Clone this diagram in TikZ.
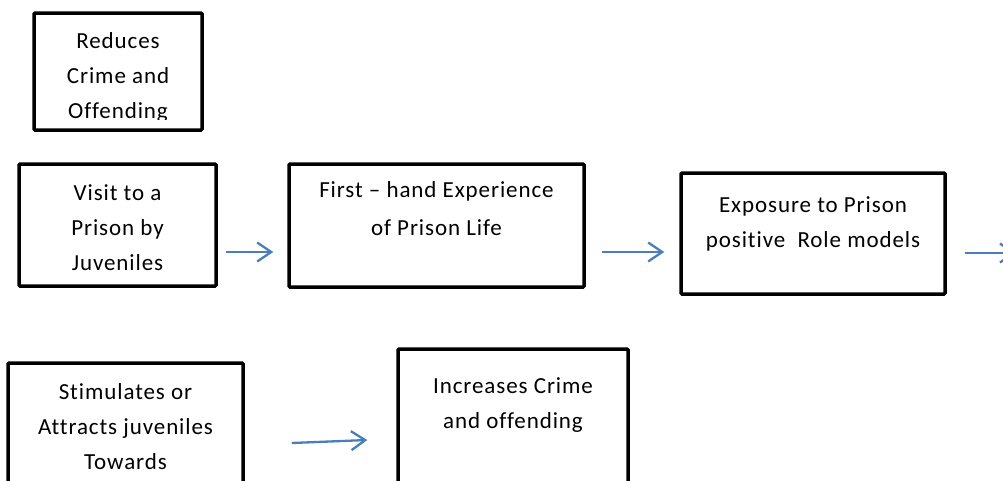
\documentclass[tikz,border=0pt]{standalone}
\usepackage{fontspec}
\setmainfont{Carlito}[LetterSpace=4, Ligatures={NoCommon}]
\usepackage{tikz}
\usetikzlibrary{arrows.meta}
\definecolor{arrowblue}{HTML}{4A7EBB}

\begin{document}
\begin{tikzpicture}[
  x=1pt, y=-1pt,
  every node/.style={font=\fontsize{23}{35}\selectfont, align=center, inner sep=0pt},
  box/.style={draw=black, line width=3.5pt, rounded corners=1pt},
  lbl/.style={anchor=north},
  arr/.style={-{Straight Barb[length=14pt, width=19pt]}, line width=2.3pt, draw=arrowblue}
]
\useasboundingbox (0,0) rectangle (1003,480);
\clip (0,0) rectangle (1003,480);
% box texts
\begin{scope}
  \clip (34,13) rectangle (202,119);
  \node[lbl] (reducetxt) at (118,32) {Reduces\\Crime and\\Offending};
\end{scope}
\node[lbl] (visittxt) at (117.5,184) {Visit to a\\Prison by\\Juveniles};
\node[lbl, font=\fontsize{23}{38}\selectfont] (firsttxt) at (436.5,181) {First – hand Experience\\of Prison Life};
\node[lbl] (exposuretxt) at (813,196) {Exposure to Prison\\positive~ Role models};
\node[lbl] (stimtxt) at (125.5,383) {Stimulates or\\Attracts juveniles\\Towards};
\node[lbl] (increasetxt) at (513,377) {Increases Crime\\and offending};
% boxes
\node[box, minimum width=168pt, minimum height=117pt] (reduce) at (118,71.5) {};
\node[box, minimum width=197pt, minimum height=122pt] (visit) at (117.5,225) {};
\node[box, minimum width=295pt, minimum height=123pt] (first) at (436.5,225.5) {};
\node[box, minimum width=264pt, minimum height=121pt] (exposure) at (813,233.5) {};
\node[box, minimum width=235pt, minimum height=167pt] (stim) at (125.5,446.5) {};
\node[box, minimum width=230pt, minimum height=181pt] (increase) at (513,439.5) {};
\coordinate (offpage) at (1016,253);
% arrows
\draw[arr] ([shift={(8,27)}]visit.east) -- ([shift={(-14,26.5)}]first.west);
\draw[arr] ([shift={(16,26.5)}]first.east) -- ([shift={(-15,18.5)}]exposure.west);
\draw[arr] ([shift={(18,19.5)}]exposure.east) -- (offpage);
\draw[arr] ([shift={(47,-3.5)}]stim.east) -- ([shift={(-29,0.5)}]increase.west);
\end{tikzpicture}
\end{document}
